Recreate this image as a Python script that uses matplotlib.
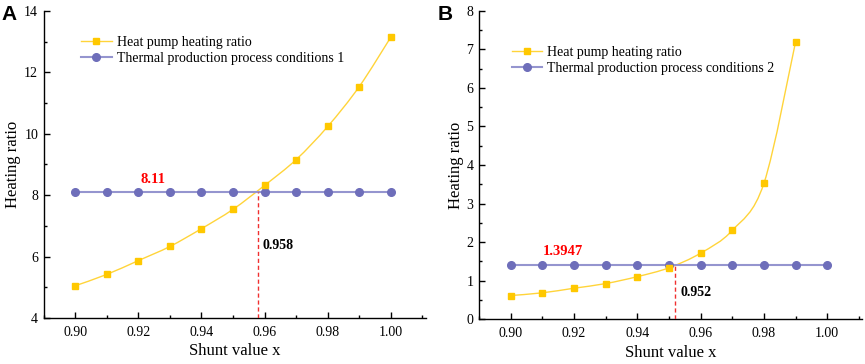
import numpy as np
import matplotlib
matplotlib.use("Agg")
import matplotlib.pyplot as plt
from matplotlib.path import Path
from matplotlib.patches import PathPatch
from matplotlib.ticker import MultipleLocator, FormatStrFormatter

# ---- data ----
x_a = [0.90, 0.91, 0.92, 0.93, 0.94, 0.95, 0.96, 0.97, 0.98, 0.99, 1.00]
hp_a = [5.05, 5.42, 5.87, 6.33, 6.91, 7.54, 8.32, 9.16, 10.24, 11.54, 13.15]
th_a = [8.11] * 11
cross_a = 0.958
level_a = 8.11

x_b = [0.90, 0.91, 0.92, 0.93, 0.94, 0.95, 0.96, 0.97, 0.98, 0.99]
hp_b = [0.61, 0.68, 0.80, 0.92, 1.10, 1.33, 1.71, 2.30, 3.52, 7.19]
x_b2 = [0.90, 0.91, 0.92, 0.93, 0.94, 0.95, 0.96, 0.97, 0.98, 0.99, 1.00]
th_b = [1.3947] * 11
cross_b = 0.952
level_b = 1.3947

hp_label = "Heat pump heating ratio"
th_label_a = "Thermal production process conditions 1"
th_label_b = "Thermal production process conditions 2"

YEL = "#FFC800"
YEL_L = "#FFD43A"
PUR = "#6E6EBA"
PUR_L = "#9595CF"

plt.rcParams["font.family"] = ["Liberation Serif", "DejaVu Serif"]


def smooth_path(ax, xs, ys, color, lw):
    # Catmull-Rom through the data points rendered as cubic Bezier segments
    xs = np.asarray(xs, float)
    ys = np.asarray(ys, float)
    pts = np.column_stack([xs, ys])
    verts = [tuple(pts[0])]
    codes = [Path.MOVETO]
    n = len(pts)
    for i in range(n - 1):
        p0 = pts[i - 1] if i > 0 else pts[i]
        p1 = pts[i]
        p2 = pts[i + 1]
        p3 = pts[i + 2] if i + 2 < n else pts[i + 1]
        c1 = p1 + (p2 - p0) / 6.0
        c2 = p2 - (p3 - p1) / 6.0
        verts += [tuple(c1), tuple(c2), tuple(p2)]
        codes += [Path.CURVE4] * 3
    patch = PathPatch(Path(verts, codes), facecolor="none", edgecolor=color,
                      lw=lw, zorder=2)
    ax.add_patch(patch)


def panel(ax, xh, yh, xt, yt, lab2, ylim, ymaj, ymin, cross, level,
          lvl_txt, lvl_xy, cross_xy, leg_anchor):
    smooth_path(ax, xh, yh, YEL_L, 1.0)
    ax.plot(xh, yh, ls="none", marker="s", ms=5, color=YEL, zorder=4)
    ax.plot(xt, yt, color=PUR_L, lw=1.5, marker="o", ms=5.5,
            mfc=PUR, mec=PUR, zorder=3)
    ax.plot([cross, cross], [ylim[0], level], color="#F03030", lw=1.0,
            ls=(0, (3, 2)), zorder=5)
    ax.text(lvl_xy[0], lvl_xy[1], lvl_txt, color="#FF0000",
            fontweight="bold", fontsize=10.5, ha="center", va="center")
    ax.text(cross_xy[0], cross_xy[1], f"{cross:.3f}", color="black",
            fontweight="bold", fontsize=10, ha="left", va="center")
    # legend handles
    h1, = ax.plot([], [], color=YEL_L, lw=1.0, marker="s", ms=5, mfc=YEL, mec=YEL)
    h2, = ax.plot([], [], color=PUR_L, lw=1.5, marker="o", ms=5.5, mfc=PUR, mec=PUR)
    ax.legend([h1, h2], [hp_label, lab2], loc="upper left",
              bbox_to_anchor=leg_anchor, frameon=False, fontsize=10,
              handlelength=2.2, handletextpad=0.35, labelspacing=0.22,
              borderpad=0, borderaxespad=0)
    ax.set_xlim(0.89, 1.011)
    ax.set_ylim(*ylim)
    ax.xaxis.set_major_locator(MultipleLocator(0.02))
    ax.xaxis.set_minor_locator(MultipleLocator(0.01))
    ax.xaxis.set_major_formatter(FormatStrFormatter("%.2f"))
    ax.yaxis.set_major_locator(MultipleLocator(ymaj))
    ax.yaxis.set_minor_locator(MultipleLocator(ymin))
    ax.spines["top"].set_visible(False)
    ax.spines["right"].set_visible(False)
    for s in ("left", "bottom"):
        ax.spines[s].set_linewidth(1.0)
    ax.tick_params(which="major", direction="in", length=4, width=1,
                   labelsize=10)
    ax.tick_params(axis="x", which="major", pad=6)
    ax.tick_params(axis="y", which="major", pad=4)
    ax.tick_params(which="minor", direction="in", length=2.5, width=1)
    ax.set_xlabel("Shunt value x", fontsize=12, labelpad=3)
    ax.set_ylabel("Heating ratio", fontsize=12, labelpad=2)


fig = plt.figure(figsize=(8.65, 3.64), dpi=100)
axA = fig.add_axes([0.0505, 0.1264, 0.4415, 0.8434])
axB = fig.add_axes([0.5538, 0.1236, 0.4427, 0.8462])

panel(axA, x_a, hp_a, x_a, th_a, th_label_a, (4, 14), 2, 1, cross_a, level_a,
      "8.11", (0.9245, 8.5), (0.9592, 6.35), (0.098, 0.918))
panel(axB, x_b, hp_b, x_b2, th_b, th_label_b, (0, 8), 1, 0.5, cross_b, level_b,
      "1.3947", (0.9165, 1.75), (0.9537, 0.69), (0.085, 0.886))

fig.text(0.002, 0.985, "A", fontsize=15, fontweight="bold",
         family=["Liberation Sans", "DejaVu Sans"], va="top", ha="left")
fig.text(0.506, 0.985, "B", fontsize=15, fontweight="bold",
         family=["Liberation Sans", "DejaVu Sans"], va="top", ha="left")

fig.savefig("out.png", dpi=100)
